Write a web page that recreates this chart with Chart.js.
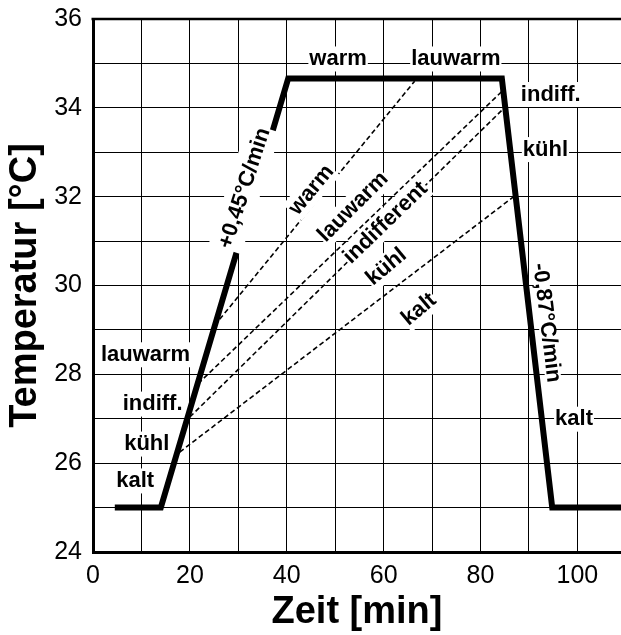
<!DOCTYPE html>
<html>
<head>
<meta charset="utf-8">
<script src="https://cdn.jsdelivr.net/npm/chart.js@4.4.1/dist/chart.umd.min.js"></script>
<style>
  html, body { margin: 0; padding: 0; background: #fff; }
  #wrap { width: 621px; height: 635px; position: relative; }
</style>
</head>
<body>
<div id="wrap"><canvas id="profil"></canvas></div>
<script>
(function(Chart) {
    // Temperaturverlauf des Bades: Zeit [min] / Temperatur [°C]
    const profileTime = [4.5, 14, 40.3, 84.4, 94.8, 109];
    const profileTemp = [25, 25, 34.66, 34.66, 25, 25];

    // Grenzlinien der Empfindungszonen (Start auf der Anstiegsflanke, Ende auf dem Plateau bzw. der Abkühlflanke)
    const boundaryStartTime = [25.1, 21.7, 20.0, 17.9];
    const boundaryStartTemp = [29.1, 27.79, 27.04, 26.25];
    const boundaryEndTime = [66.4, 84.7, 85.1, 87.2];
    const boundaryEndTemp = [34.6, 34.40, 34.02, 32.03];

    const xTicks = [0, 20, 40, 60, 80, 100];
    const yTicks = [24, 26, 28, 30, 32, 34, 36];

    const FONT = "'Liberation Sans', Arial, Helvetica, sans-serif";

    // Beschriftungen im Diagramm: Text, Lage (Zeit, Temperatur), Drehung in Grad, Kastenhöhe
    const labels = [
        { text: 'warm', x: 50.6, y: 35.1, rot: 0 },
        { text: 'lauwarm', x: 74.9, y: 35.1, rot: 0 },
        { text: 'indiff.', x: 94.5, y: 34.3, rot: 0 },
        { text: 'kühl', x: 93.4, y: 33.06, rot: 0 },
        { text: 'kalt', x: 99.3, y: 26.99, rot: 0 },
        { text: 'lauwarm', x: 10.85, y: 28.44, rot: 0 },
        { text: 'indiff.', x: 12.3, y: 27.33, rot: 0 },
        { text: 'kühl', x: 11.1, y: 26.43, rot: 0 },
        { text: 'kalt', x: 8.7, y: 25.6, rot: 0 },
        { text: 'warm', x: 45.1, y: 32.15, rot: -50 },
        { text: 'lauwarm', x: 53.7, y: 31.77, rot: -45 },
        { text: 'indifferent', x: 60.4, y: 31.41, rot: -44 },
        { text: 'kühl', x: 60.6, y: 30.42, rot: -40 },
        { text: 'kalt', x: 67.3, y: 29.46, rot: -40 },
        { text: '+0,45°C/min', x: 31.3, y: 32.19, rot: -72, boxH: 34 },
        { text: '-0,87°C/min', x: 93.6, y: 29.16, rot: 83, boxH: 16 }
    ];

    function points(xs, ys) {
        return xs.map((v, i) => ({ x: v, y: ys[i] }));
    }

    const datasets = [{
        data: points(profileTime, profileTemp),
        borderColor: '#000',
        borderWidth: 6,
        borderJoinStyle: 'miter',
        showLine: true,
        pointRadius: 0
    }];

    boundaryStartTime.forEach((t, i) => {
        datasets.push({
            data: points([t, boundaryEndTime[i]], [boundaryStartTemp[i], boundaryEndTemp[i]]),
            borderColor: '#000',
            borderWidth: 1.6,
            borderDash: [5, 3],
            showLine: true,
            pointRadius: 0
        });
    });

    const labelPlugin = {
        id: 'zoneLabels',
        afterDatasetsDraw(chart) {
            const { ctx, chartArea, scales: { x, y } } = chart;
            ctx.save();

            // oberer Rahmen
            ctx.strokeStyle = '#000';
            ctx.lineWidth = 2.5;
            ctx.beginPath();
            ctx.moveTo(chartArea.left - 1.5, chartArea.top);
            ctx.lineTo(chartArea.right, chartArea.top);
            ctx.stroke();

            ctx.font = 'bold 22px ' + FONT;
            ctx.textAlign = 'center';
            ctx.textBaseline = 'middle';
            labels.forEach(l => {
                const px = x.getPixelForValue(l.x);
                const py = y.getPixelForValue(l.y);
                const w = ctx.measureText(l.text).width + 2;
                const h = l.boxH || 25;
                ctx.save();
                ctx.translate(px, py);
                ctx.rotate(l.rot * Math.PI / 180);
                ctx.fillStyle = '#fff';
                ctx.fillRect(-w / 2, -h / 2, w, h);
                ctx.fillStyle = '#000';
                ctx.fillText(l.text, 0, 0);
                ctx.restore();
            });
            ctx.restore();
        }
    };

    const config = {
        type: 'scatter',
        data: { datasets: datasets },
        options: {
            responsive: true,
            maintainAspectRatio: false,
            animation: false,
            layout: { padding: { left: 0, top: 19, right: 0, bottom: 0 } },
            plugins: {
                legend: { display: false },
                tooltip: { enabled: false }
            },
            scales: {
                x: {
                    type: 'linear',
                    min: 0,
                    max: 109,
                    afterFit: s => { s.height = 83; },
                    ticks: {
                        stepSize: 10,
                        includeBounds: false,
                        autoSkip: false,
                        maxRotation: 0,
                        padding: 9,
                        color: '#000',
                        font: { family: FONT, size: 25 },
                        callback: v => xTicks.includes(v) ? String(v) : ''
                    },
                    grid: { color: '#000', lineWidth: 1, drawTicks: false },
                    border: { color: '#000', width: 3 },
                    title: {
                        display: true,
                        text: 'Zeit [min]',
                        color: '#000',
                        font: { family: FONT, size: 38, weight: 'bold' },
                        padding: { top: 0, bottom: 0 }
                    }
                },
                y: {
                    type: 'linear',
                    min: 24,
                    max: 36,
                    afterFit: s => {
                        s.width = 93;
                        s.paddingTop = 0;
                        s.paddingBottom = 0;
                    },
                    ticks: {
                        stepSize: 1,
                        autoSkip: false,
                        padding: 11,
                        color: '#000',
                        font: { family: FONT, size: 25 },
                        callback: v => yTicks.includes(v) ? String(v) : ''
                    },
                    grid: { color: '#000', lineWidth: 1, drawTicks: false },
                    border: { color: '#000', width: 3 },
                    title: {
                        display: true,
                        text: 'Temperatur [°C]',
                        color: '#000',
                        font: { family: FONT, size: 38, weight: 'bold' },
                        padding: { top: 3, bottom: 0 }
                    }
                }
            }
        },
        plugins: [labelPlugin]
    };

    new Chart(document.getElementById('profil').getContext('2d'), config);
})(Chart);
</script>
</body>
</html>
